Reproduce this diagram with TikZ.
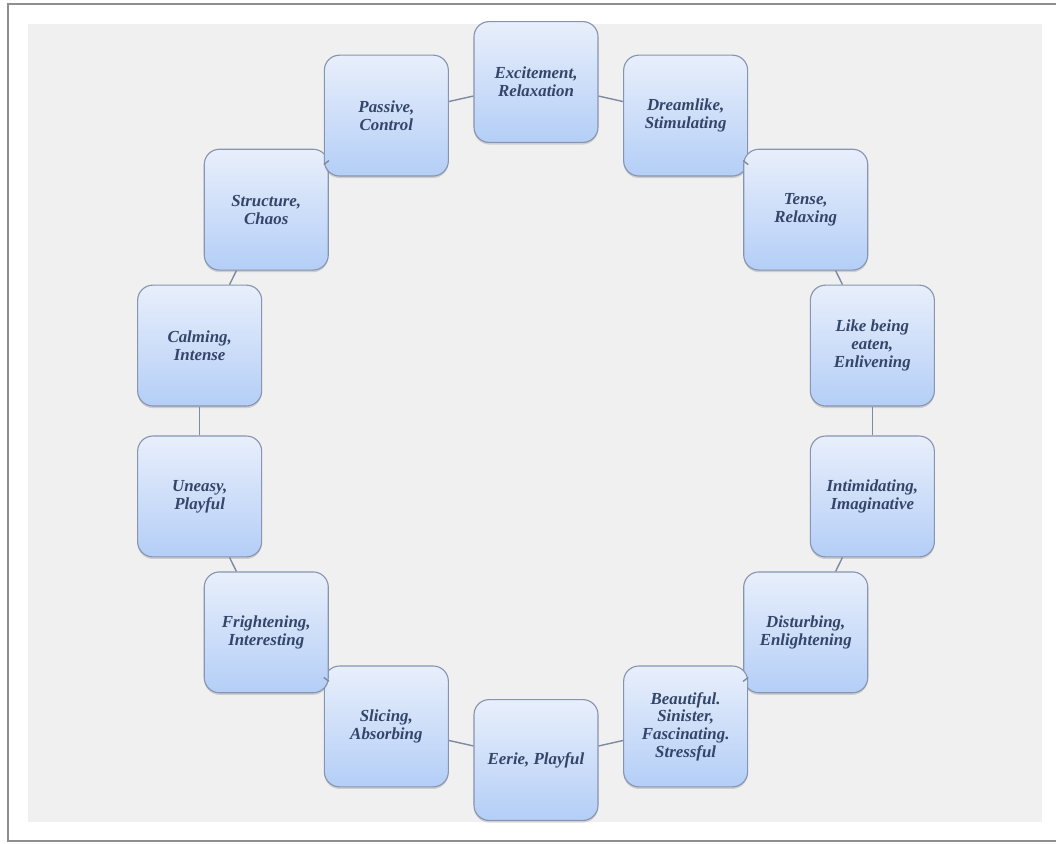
\documentclass[tikz,border=0pt]{standalone}
\usepackage{fontspec}
\setmainfont{Liberation Serif}
\usepackage{xcolor}
\definecolor{FrameGray}{HTML}{8E8E8E}
\definecolor{PanelGray}{HTML}{F0F0F0}
\definecolor{BoxTop}{HTML}{E8EFFB}
\definecolor{BoxBottom}{HTML}{B4CEF7}
\definecolor{BoxEdge}{HTML}{8795B0}
\definecolor{LinkGray}{HTML}{7E8AA2}
\definecolor{WordNavy}{HTML}{34456A}
\usepackage{tikz}
\usetikzlibrary{shadows}

\begin{document}
\begin{tikzpicture}[x=0.025cm, y=-0.025cm,
  moodbox/.style={draw=BoxEdge, line width=0.8pt, rounded corners=0.38cm,
    top color=BoxTop, bottom color=BoxBottom,
    minimum width=3.1cm, minimum height=3.02cm, inner sep=2pt,
    align=center, text=WordNavy, font=\fontsize{12}{12.6}\selectfont\bfseries\itshape,
    drop shadow={shadow xshift=0pt, shadow yshift=-1.5pt, opacity=0.3}},
  link/.style={LinkGray, line width=1pt}]
  % Ring geometry (pixel units, y downwards)
  \def\cx{536}   % centre of ring
  \def\cy{421}
  \def\rx{345}   % horizontal radius
  \def\ry{339}   % vertical radius

  \useasboundingbox (0,0) rectangle (1056,843);

  % Frame and panel
  \fill[white] (0,0) rectangle (1056,843);
  \draw[FrameGray, line width=1pt] (1056,4) -- (8,4) -- (8,841) -- (1056,841);
  \fill[PanelGray] (28,24) rectangle (1042,822);

  % Boxes, clockwise from the top
  \node[moodbox] (excite)  at ({\cx+\rx*cos(90)},      {\cy-\ry*sin(90)})      {Excitement,\\Relaxation};
  \node[moodbox] (dream)   at ({\cx+\rx*cos(64.29)},   {\cy-\ry*sin(64.29)})   {Dreamlike,\\Stimulating};
  \node[moodbox] (tense)   at ({\cx+\rx*cos(38.57)},   {\cy-\ry*sin(38.57)})   {Tense,\\Relaxing};
  \node[moodbox] (eaten)   at ({\cx+\rx*cos(12.86)},   {\cy-\ry*sin(12.86)})   {Like being\\eaten,\\Enlivening};
  \node[moodbox] (intim)   at ({\cx+\rx*cos(-12.86)},  {\cy-\ry*sin(-12.86)})  {Intimidating,\\Imaginative};
  \node[moodbox] (disturb) at ({\cx+\rx*cos(-38.57)},  {\cy-\ry*sin(-38.57)})  {Disturbing,\\Enlightening};
  \node[moodbox] (beauty)  at ({\cx+\rx*cos(-64.29)},  {\cy-\ry*sin(-64.29)})  {Beautiful.\\Sinister,\\Fascinating.\\Stressful};
  \node[moodbox] (eerie)   at ({\cx+\rx*cos(-90)},     {\cy-\ry*sin(-90)})     {Eerie, Playful};
  \node[moodbox] (slice)   at ({\cx+\rx*cos(-115.71)}, {\cy-\ry*sin(-115.71)}) {Slicing,\\Absorbing};
  \node[moodbox] (fright)  at ({\cx+\rx*cos(-141.43)}, {\cy-\ry*sin(-141.43)}) {Frightening,\\Interesting};
  \node[moodbox] (uneasy)  at ({\cx+\rx*cos(-167.14)}, {\cy-\ry*sin(-167.14)}) {Uneasy,\\Playful};
  \node[moodbox] (calm)    at ({\cx+\rx*cos(167.14)},  {\cy-\ry*sin(167.14)})  {Calming,\\Intense};
  \node[moodbox] (struct)  at ({\cx+\rx*cos(141.43)},  {\cy-\ry*sin(141.43)})  {Structure,\\Chaos};
  \node[moodbox] (passive) at ({\cx+\rx*cos(115.71)},  {\cy-\ry*sin(115.71)})  {Passive,\\Control};

  % Links between neighbours
  \draw[link] (excite) -- (dream);
  \draw[link] (dream) -- (tense);
  \draw[link] (tense) -- (eaten);
  \draw[link] (eaten) -- (intim);
  \draw[link] (intim) -- (disturb);
  \draw[link] (disturb) -- (beauty);
  \draw[link] (beauty) -- (eerie);
  \draw[link] (eerie) -- (slice);
  \draw[link] (slice) -- (fright);
  \draw[link] (fright) -- (uneasy);
  \draw[link] (uneasy) -- (calm);
  \draw[link] (calm) -- (struct);
  \draw[link] (struct) -- (passive);
  \draw[link] (passive) -- (excite);
\end{tikzpicture}
\end{document}
